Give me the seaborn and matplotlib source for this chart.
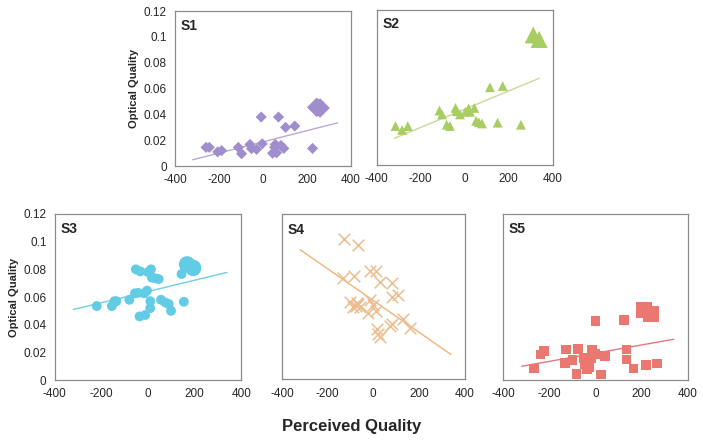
import numpy as np
import pandas as pd
import seaborn as sns
import matplotlib.pyplot as plt

# values
s1_x = [-259, -244, -206, -188, -112, -97, -59, -52, -29, -8, -3, 44, 53, 56, 62, 71, 82, 95, 103, 145, 226, 245, 260]
s1_y = [0.0145, 0.0145, 0.011, 0.012, 0.0145, 0.0096, 0.0168, 0.0135, 0.013, 0.038, 0.0173, 0.010, 0.0147, 0.0168, 0.0103, 0.038, 0.016, 0.0137, 0.030, 0.031, 0.0137, 0.0455, 0.045]
s1_big = [0] * 21 + [1, 1]

s2_x = [-315, -285, -259, -115, -103, -82, -67, -42, -36, -21, 3, 18, 24, 44, 52, 64, 79, 115, 150, 173, 256, 312, 339]
s2_y = [0.030, 0.027, 0.030, 0.042, 0.039, 0.031, 0.030, 0.044, 0.0415, 0.039, 0.041, 0.0436, 0.041, 0.044, 0.034, 0.033, 0.032, 0.060, 0.0326, 0.061, 0.031, 0.1005, 0.097]
s2_big = [0] * 21 + [1, 1]

s3_x = [-220, -155, -144, -136, -80, -56, -52, -42, -36, -33, -16, -12, -4, 0, 13, 10, 10, 17, 32, 46, 56, 75, 89, 99, 144, 154, 168, 194]
s3_y = [0.0535, 0.0535, 0.057, 0.057, 0.058, 0.0627, 0.080, 0.063, 0.046, 0.0785, 0.0627, 0.047, 0.0646, 0.078, 0.080, 0.057, 0.052, 0.074, 0.0735, 0.073, 0.058, 0.056, 0.055, 0.050, 0.0766, 0.0566, 0.0836, 0.081]
s3_big = [0] * 26 + [1, 1]

s4_x = [-128, -65, -131, -84, -15, 12, 29, 84, 80, 109, -102, -76, -65, -58, -15, -3, 12, -22, 131, 80, 73, 15, 22, 29, 160, -90, -70]
s4_y = [0.102, 0.0975, 0.0737, 0.075, 0.0785, 0.079, 0.0708, 0.070, 0.060, 0.0616, 0.056, 0.053, 0.0545, 0.0526, 0.0575, 0.054, 0.050, 0.048, 0.044, 0.0405, 0.039, 0.0368, 0.033, 0.031, 0.0373, 0.0525, 0.0555]
s4_big = [0] * 27

s5_x = [-267, -238, -223, -129, -132, -100, -75, -83, -49, -45, -38, -28, -20, -16, -1, 1, 23, 41, 125, 135, 135, 165, 219, 267, 212, 241]
s5_y = [0.0083, 0.0185, 0.021, 0.022, 0.0124, 0.0143, 0.0226, 0.0046, 0.016, 0.0117, 0.008, 0.0095, 0.0155, 0.022, 0.019, 0.0428, 0.0041, 0.0172, 0.0432, 0.022, 0.0148, 0.0083, 0.011, 0.0119, 0.0505, 0.048]
s5_big = [0] * 24 + [1, 1]

# trendlines (y at the two ends of the drawn line)
trend_x = [-320, 340]
s1_trend = [0.0049, 0.0335]
s2_trend = [0.0205, 0.067]
s3_trend = [0.051, 0.0778]
s4_trend = [0.0943, 0.0180]
s5_trend = [0.010, 0.0295]

y_ticks = [0, 0.02, 0.04, 0.06, 0.08, 0.1, 0.12]
y_labels = ["0", "0.02", "0.04", "0.06", "0.08", "0.1", "0.12"]
x_ticks = [-400, -200, 0, 200, 400]

sns.set_style("white")
plt.rcParams['font.family'] = ['Liberation Sans', 'DejaVu Sans']

fig = plt.figure(figsize=(7.03, 4.43), dpi=100)

panels = [
    ("S1", s1_x, s1_y, s1_big, s1_trend, "D", "#a08dcd", "#b9a8dc", [0.249, 0.625, 0.250, 0.350], True),
    ("S2", s2_x, s2_y, s2_big, s2_trend, "^", "#a8cd62", "#c9da98", [0.536, 0.628, 0.250, 0.350], False),
    ("S3", s3_x, s3_y, s3_big, s3_trend, "o", "#62cce5", "#6fcfe2", [0.078, 0.142, 0.265, 0.375], True),
    ("S4", s4_x, s4_y, s4_big, s4_trend, "x", "#ebbd8f", "#f0b47a", [0.401, 0.144, 0.260, 0.372], False),
    ("S5", s5_x, s5_y, s5_big, s5_trend, "s", "#ea7870", "#e4787a", [0.716, 0.142, 0.262, 0.375], False),
]

sizes = {
    "D": {0: 32, 1: 100},
    "^": {0: 50, 1: 150},
    "o": {0: 50, 1: 140},
    "x": {0: 70, 1: 70},
    "s": {0: 48, 1: 130},
}

for name, xs, ys, big, trend, mk, col, lcol, rect, show_y in panels:
    ax = fig.add_axes(rect)
    df = pd.DataFrame({"x": xs, "y": ys, "big": big})
    ax.plot(trend_x, trend, color=lcol, lw=1.0, zorder=1)
    if mk == "x":
        sns.scatterplot(data=df, x="x", y="y", marker="x", color=col, s=70,
                        linewidth=1.1, legend=False, ax=ax, zorder=2)
    else:
        sns.scatterplot(data=df, x="x", y="y", size="big", sizes=sizes[mk], marker=mk,
                        color=col, edgecolor="none", linewidth=0, legend=False, ax=ax, zorder=2)
    ax.set_xlim(-400, 400)
    ax.set_ylim(0, 0.12)
    ax.set_xticks(x_ticks)
    ax.set_xticklabels([str(t) for t in x_ticks], fontsize=8.5)
    ax.set_yticks(y_ticks)
    if show_y:
        ax.set_yticklabels(y_labels, fontsize=8.5)
        ax.set_ylabel("Optical Quality", fontsize=8, fontweight="bold", labelpad=3)
    else:
        ax.set_yticklabels([])
        ax.set_ylabel("")
    ax.set_xlabel("")
    for sp in ax.spines.values():
        sp.set_color("#8c8c8c")
        sp.set_linewidth(0.9)
    ax.tick_params(axis="both", direction="out", length=3, width=0.8, color="#8c8c8c", pad=3)
    ax.text(0.03, 0.95, name, transform=ax.transAxes, fontsize=10, fontweight="bold",
            va="top", ha="left")

fig.text(0.5, 0.038, "Perceived Quality", ha="center", va="center", fontsize=12, fontweight="bold")

fig.savefig("out.png", dpi=100)
